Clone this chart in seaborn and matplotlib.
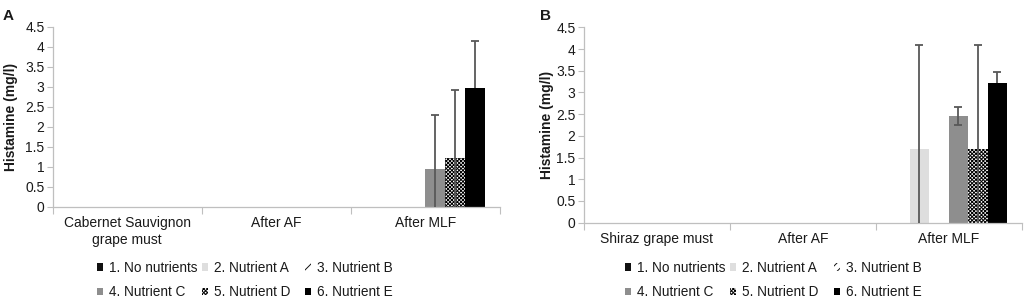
import matplotlib
matplotlib.use("Agg")
import matplotlib.pyplot as plt
import seaborn as sns
import pandas as pd

# ---- data ----
treatments = ["1. No nutrients", "2. Nutrient A", "3. Nutrient B",
              "4. Nutrient C", "5. Nutrient D", "6. Nutrient E"]
stages_A = ["Cabernet Sauvignon\ngrape must", "After AF", "After MLF"]
stages_B = ["Shiraz grape must", "After AF", "After MLF"]

# values per treatment, in stage order
hist_A_must = [0, 0, 0, 0, 0, 0]
hist_A_af = [0, 0, 0, 0, 0, 0]
hist_A_mlf = [0, 0, 0, 0.93, 1.21, 2.98]
err_A_mlf = [0, 0, 0, 1.35, 1.71, 1.17]

hist_B_must = [0, 0, 0, 0, 0, 0]
hist_B_af = [0, 0, 0, 0, 0, 0]
hist_B_mlf = [0, 1.70, 0, 2.46, 1.70, 3.22]
err_B_mlf = [0, 2.39, 0, 0.20, 2.39, 0.25]

y_ticks = [0, 0.5, 1, 1.5, 2, 2.5, 3, 3.5, 4, 4.5]
y_ticklabels = ["0", "0.5", "1", "1.5", "2", "2.5", "3", "3.5", "4", "4.5"]

# ---- styling ----
sns.set_theme(style="white")
plt.rcParams["font.family"] = ["Liberation Sans", "DejaVu Sans"]
plt.rcParams["hatch.linewidth"] = 0.7

face = ["#111111", "#dedede", "white", "#8e8e8e", "white", "#000000"]
hatches = ["....", "", "////", "", "xxxxxxxxx", ""]
edge = ["#111111", "#dedede", "#111111", "#8e8e8e", "#000000", "#000000"]
axis_col = "#bfbfbf"
text_col = "#1a1a1a"

W, H = 1028, 299


def build_df(stages, rows):
    recs = []
    for s, vals in zip(stages, rows):
        for t, v in zip(treatments, vals):
            recs.append({"stage": s, "treatment": t, "value": v})
    return pd.DataFrame(recs)


fig = plt.figure(figsize=(10.28, 2.99), dpi=100)
axA = fig.add_axes([0.0513, 0.3087, 0.4348, 0.602])
axB = fig.add_axes([0.568, 0.2552, 0.4258, 0.6535])

panels = [
    (axA, stages_A, [hist_A_must, hist_A_af, hist_A_mlf], err_A_mlf, "A",
     (3, 9), [96.5, 201.5, 304.5], -0.077),
    (axB, stages_B, [hist_B_must, hist_B_af, hist_B_mlf], err_B_mlf, "B",
     (540, 9), [624.5, 729.5, 833.5], -0.068),
]

for ax, stages, rows, errs, letter, lpos, legx, ylx in panels:
    df = build_df(stages, rows)
    sns.barplot(data=df, x="stage", y="value", hue="treatment",
                order=stages, hue_order=treatments, errorbar=None,
                width=0.8, ax=ax, legend=True)
    # style bars per hue container
    bar_info = []
    for i, cont in enumerate(ax.containers):
        for j, bar in enumerate(cont):
            bar.set_facecolor(face[i])
            bar.set_edgecolor(edge[i])
            bar.set_hatch(hatches[i])
            bar.set_linewidth(0)
            bar.set_zorder(2)
            bar_info.append((i, j, bar.get_x() + bar.get_width() / 2, bar.get_height()))
    # error bars on last stage
    for i, j, xc, h in bar_info:
        if j == len(stages) - 1 and errs[i] > 0:
            z = 1.5 if face[i] == "#000000" else 3
            ax.errorbar(xc, h, yerr=errs[i], fmt="none", ecolor="#585858",
                        elinewidth=1.3, capsize=3.2, capthick=1.3, zorder=z)
    # legend handles
    handles, labels = ax.get_legend_handles_labels()
    ax.get_legend().remove()
    for i, hnd in enumerate(handles):
        hnd.set_facecolor(face[i])
        hnd.set_edgecolor(edge[i])
        hnd.set_hatch(hatches[i])
        hnd.set_linewidth(0)
    # three fixed-width legend columns (rows: 1-2-3 / 4-5-6)
    for c in range(3):
        fig.legend([handles[c], handles[c + 3]], [labels[c], labels[c + 3]],
                   ncol=1, loc="upper left",
                   bbox_to_anchor=(legx[c] / W, 1 - 260.5 / H),
                   frameon=False, fontsize=9.8, handlelength=0.5, handleheight=0.5,
                   handletextpad=0.4, labelspacing=0.8,
                   labelcolor=text_col, borderpad=0, borderaxespad=0)

    ax.set_ylim(0, 4.5)
    ax.set_xlim(-0.5, 2.5)
    ax.set_yticks(y_ticks)
    ax.set_yticklabels(y_ticklabels)
    ax.set_xlabel("")
    ax.set_ylabel("Histamine (mg/l)", fontsize=10, fontweight="bold",
                  color=text_col)
    ax.yaxis.set_label_coords(ylx, 0.5)
    ax.set_xticks(range(len(stages)))
    ax.set_xticklabels(stages, fontsize=10, color=text_col)
    ax.set_xticks([-0.5, 0.5, 1.5, 2.5], minor=True)
    ax.tick_params(axis="x", which="major", length=0, pad=7)
    ax.tick_params(axis="x", which="minor", length=5, width=0.8, color=axis_col,
                   direction="out", bottom=True)
    ax.tick_params(axis="y", length=4, width=0.8, color=axis_col, direction="out",
                   left=True, labelsize=10, labelcolor=text_col, pad=2)
    for sp in ["top", "right"]:
        ax.spines[sp].set_visible(False)
    for sp in ["left", "bottom"]:
        ax.spines[sp].set_color(axis_col)
        ax.spines[sp].set_linewidth(0.9)
    fig.text(lpos[0] / W, 1 - lpos[1] / H, letter, fontsize=11, fontweight="bold",
             ha="left", va="top", color=text_col)

fig.savefig("out.png", dpi=100)
